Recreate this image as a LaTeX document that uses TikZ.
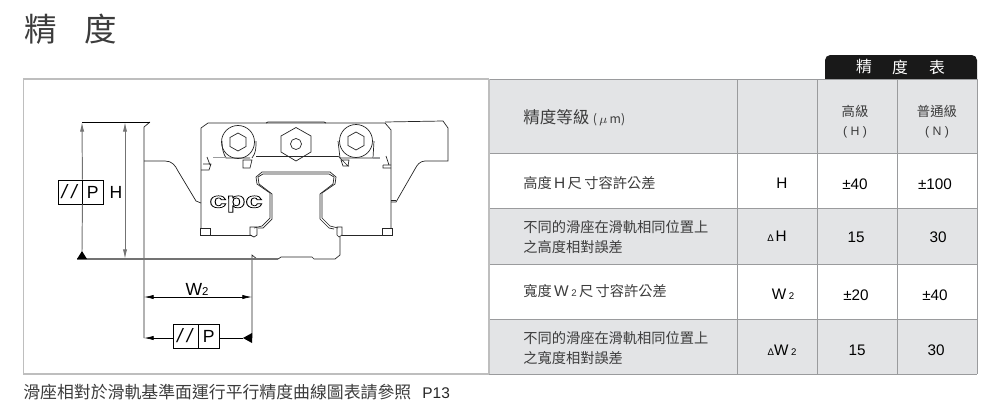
\documentclass[tikz,border=0pt]{standalone}
\usepackage{fontspec}
\setmainfont{Liberation Sans}
\newfontfamily\cjkfont{Noto Sans CJK TC}
\usetikzlibrary{arrows.meta}
\definecolor{cellgray}{HTML}{E3E4E6}
\definecolor{rulegray}{HTML}{9A9B9D}
\definecolor{framegray}{HTML}{BEBEBE}
\definecolor{textgray}{HTML}{3C3C3C}
\tikzset{
  part/.style={line width=0.4pt,black!85},
  dimline/.style={line width=0.4pt,black,>={Latex[length=5.5pt,width=2.4pt]}},
  extline/.style={line width=0.55pt,black!55,>={Latex[length=5.5pt,width=2.4pt]}},
  datum/.style={fill=black,draw=none},
  tolcell/.style={draw,line width=0.5pt,inner sep=0pt,minimum height=0.48cm,font=\fontsize{10}{12}\selectfont},
  dimtext/.style={inner sep=0pt,font=\fontsize{10}{12}\selectfont},
  rowtext/.style={anchor=west,inner sep=0pt,text=textgray,font=\fontsize{8.1}{10}\selectfont\cjkfont},
  headtext/.style={inner sep=0pt,text=textgray,font=\fontsize{7.6}{10}\selectfont\cjkfont},
  valtext/.style={inner sep=0pt,font=\fontsize{8.7}{10}\selectfont},
  tabrule/.style={line width=0.55pt,rulegray}
}
\begin{document}
\begin{tikzpicture}[x=0.02cm,y=-0.02cm]
\useasboundingbox (0,0) rectangle (1000,419);

% title and note
\node[inner sep=0pt,text=textgray,font=\fontsize{18.5}{20}\selectfont\cjkfont] (title1) at (41,29) {精};
\node[inner sep=0pt,text=textgray,font=\fontsize{18.5}{20}\selectfont\cjkfont] (title2) at (101,29) {度};
\node[anchor=west,inner sep=0pt,text=textgray,font=\fontsize{9.6}{11}\selectfont\cjkfont] (note) at (23,392) {滑座相對於滑軌基準面運行平行精度曲線圖表請參照};
\node[anchor=west,inner sep=0pt,text=black!85,font=\fontsize{8.8}{11}\selectfont] (page) at (422,393) {P13};

% tab
\fill[black!90,rounded corners=3pt] (825,90) -- (825,55) -- (977,55) -- (977,90) -- cycle;
\fill[white] (820,79) rectangle (982,95);
\node[inner sep=0pt,text=white,font=\fontsize{9}{11}\selectfont\cjkfont] (tab1) at (864,67) {精};
\node[inner sep=0pt,text=white,font=\fontsize{9}{11}\selectfont\cjkfont] (tab2) at (900,67) {度};
\node[inner sep=0pt,text=white,font=\fontsize{9}{11}\selectfont\cjkfont] (tab3) at (937,67) {表};

% table
\fill[cellgray] (489,79) rectangle (977,153);
\fill[cellgray] (489,208) rectangle (977,264);
\fill[cellgray] (489,319) rectangle (977,374);
\draw[tabrule] (489,79) -- (977,79);
\draw[tabrule] (489,153) -- (977,153);
\draw[tabrule] (489,208) -- (977,208);
\draw[tabrule] (489,264) -- (977,264);
\draw[tabrule] (489,319) -- (977,319);
\draw[tabrule] (489,374) -- (977,374);
\draw[tabrule] (737.5,79) -- (737.5,374);
\draw[tabrule] (817.5,79) -- (817.5,374);
\draw[tabrule] (897,79) -- (897,374);
\draw[tabrule] (977,79) -- (977,374);

% frame
\draw[line width=0.7pt,framegray] (489,79) -- (23.5,79) -- (23.5,374) -- (489,374);
\draw[line width=0.7pt,framegray] (489,79) -- (489,374);

% table texts
\node[rowtext,font=\fontsize{9.4}{11}\selectfont\cjkfont] (grade) at (523,118) {精度等級\fontsize{7}{8}\selectfont\kern2pt(\,$\mu$\,m)};
\node[headtext] (high1) at (855,111) {高級};
\node[headtext,font=\fontsize{7}{9}\selectfont] (high2) at (855,132) {( H )};
\node[headtext] (norm1) at (937,111) {普通級};
\node[headtext,font=\fontsize{7}{9}\selectfont] (norm2) at (937,132) {( N )};

\node[rowtext] (rowa) at (523,183) {高度\,{\fontsize{8.8}{10}\selectfont\rmfamily H}\,尺\,寸容許公差};
\node[valtext] (syma) at (782,183) {H};
\node[valtext] (vala1) at (855,184) {±40};
\node[valtext] (vala2) at (935,184) {±100};

\node[rowtext] (rowb1) at (523,227) {不同的滑座在滑軌相同位置上};
\node[rowtext] (rowb2) at (523,247) {之高度相對誤差};
\node[valtext] (symb) at (777,236.5) {{\fontsize{5.5}{7}\selectfont Δ\,}H};
\node[valtext] (valb1) at (856,237) {15};
\node[valtext] (valb2) at (938,237) {30};

\node[rowtext] (rowc) at (523,291) {寬度\,{\fontsize{8.8}{10}\selectfont\rmfamily W\,{\fontsize{5.5}{7}\selectfont 2}}\,尺\,寸容許公差};
\node[valtext] (symc) at (783,294) {W\,{\fontsize{5.5}{7}\selectfont 2}};
\node[valtext] (valc1) at (856,295) {±20};
\node[valtext] (valc2) at (935,295) {±40};

\node[rowtext] (rowd1) at (523,338) {不同的滑座在滑軌相同位置上};
\node[rowtext] (rowd2) at (523,358) {之寬度相對誤差};
\node[valtext] (symd) at (782,350) {{\fontsize{5.5}{7}\selectfont Δ}W\,{\fontsize{5.5}{7}\selectfont 2}};
\node[valtext] (vald1) at (857,350) {15};
\node[valtext] (vald2) at (936,350) {30};

% base block
\draw[part] (144,338) -- (144,127) -- (150,122);
\draw[part] (144,161) -- (165,161) .. controls (172,161) and (175,165) .. (178,171) -- (196,201) -- (201,203);
\draw[part] (385,122) -- (443,121) -- (448,128) -- (448,161) -- (425,161) .. controls (420,161) and (417,165) .. (415,169) -- (396,202) -- (391,202);
\draw[part] (391,200) -- (396,200);

% carriage
\draw[part] (201,228) -- (201,128) -- (208,123) -- (385,123) -- (391,130) -- (391,228);
\draw[part] (266,123) -- (268,122) -- (324,122) -- (326,123);
\draw[part] (256,156) -- (338,156);
\draw[part] (222,141) .. controls (222,148) and (223,153) .. (226,158) -- (250,158);
\draw[part] (256,141) .. controls (256,148) and (256,153) .. (252,158);
\draw[part] (338,141) -- (340,158) -- (378,158);
\draw[part] (374,141) -- (373,158);
\draw[part,rulegray,line width=0.9pt] (213,157.5) -- (226,157.5);
\draw[part,rulegray,line width=0.9pt] (373,158) -- (380,158);
\draw[part] (207,157) -- (210,165) (203,164) -- (211,164) -- (209,170) -- (201,170);
\draw[part] (386,156) -- (389,165) (383,165) -- (391,165) (383,165) -- (383,168) -- (391,168);
\draw[part] (338,156) -- (348,166) -- (349,160) -- (341,160) -- (343,166) -- (349,166);
\draw[part] (243,160) -- (252,160) -- (250,168) -- (243,168) -- cycle;
\draw[part] (200,235) -- (252,235) (200,235) -- (200,228) -- (210,228) -- (210,235);
\draw[part] (342,235) -- (392,235) -- (392,228) -- (382,228) -- (382,235);

% bolts and nut
\draw[part] (238,142) circle[radius=16.5];
\draw[part] (356,141) circle[radius=16.5];
\draw[part] (238,133) -- (246,137.5) -- (246,146.5) -- (238,151) -- (230,146.5) -- (230,137.5) -- cycle;
\draw[part] (356,132) -- (364,136.5) -- (364,145.5) -- (356,150) -- (348,145.5) -- (348,136.5) -- cycle;
\draw[part] (296,127.5) -- (311,136) -- (311,152) -- (296,161) -- (281,152) -- (281,136) -- cycle;
\draw[part] (296,144) circle[radius=5.5];

% rail
\draw[part] (252,338) -- (252,255) -- (257,259);
\draw[part] (254,228) -- (262,226) -- (270,218) -- (270,193) -- (257,184) -- (256,177) -- (262,172) -- (330,172) -- (336,177) -- (335,184) -- (322,193) -- (322,218) -- (330,226) -- (338,228);
\draw[part] (258,228) -- (263,228) -- (272,219) -- (272,194) -- (259,184) -- (258,177) -- (263,174) -- (329,174) -- (334,177) -- (333,184) -- (320,194) -- (320,219) -- (329,228) -- (334,229);
\draw[part] (250,227) -- (257,227) -- (257,235) -- (254,237) -- (250,235) -- cycle;
\draw[part] (337,227) -- (342,227) -- (342,235) -- (339,237) -- (337,235) -- cycle;
\draw[part] (340,237) -- (340,255) -- (335,259) -- (314,259) -- (312,257) -- (281,257) -- (278,259) -- (257,259);
\node[inner sep=0pt,font=\fontsize{12.5}{14}\selectfont\bfseries] (logo) at (236,204) {\special{pdf:code 1 Tr 0.4 w}\scalebox{1.4}[1]{cpc}\special{pdf:code 0 Tr}};

% dimensions
\coordinate (htop) at (82,122);
\coordinate (hbot) at (125,259);
\coordinate (hmid) at (125,122);
\coordinate (lead) at (150,122);
\coordinate (baseleft) at (77,259);
\coordinate (wleft) at (144,297);
\coordinate (wright) at (252,297);
\coordinate (pleft) at (144,338);
\coordinate (pright) at (252,338);
\node[tolcell,minimum width=0.48cm,font=\fontsize{11}{12}\selectfont] (hslash) at (70,192) {\textit{/\kern2.5pt/}};
\node[tolcell,minimum width=0.42cm] (hp) at (92.7,192) {P};
\node[dimtext] (hlabel) at (116,192) {H};
\node[tolcell,minimum width=0.5cm,font=\fontsize{11}{12}\selectfont] (wslash) at (185.5,336) {\textit{/\kern2.5pt/}};
\node[tolcell,minimum width=0.42cm] (wp) at (208.7,336) {P};
\node[dimtext] (wlabel) at (197,289) {W{\fontsize{6.5}{8}\selectfont 2}};

\draw[dimline] (htop) -- (lead);
\draw[extline,line width=0.7pt] (baseleft) -- (278,259);
\draw[extline,->] (hslash.north east) -- (htop);
\draw[extline] (hslash.south east) -- (82,251);
\fill[datum] (77,259) -- (82,251) -- (87,259) -- cycle;
\draw[extline,<->] (hmid) -- (hbot);
\draw[dimline,<->] (wleft) -- (wright);
\draw[dimline,->] (wslash.west |- pleft) -- (pleft);
\draw[dimline] (wp.east |- pright) -- (243,338);
\fill[datum] (252,333) -- (243,338) -- (252,343) -- cycle;
\end{tikzpicture}
\end{document}
